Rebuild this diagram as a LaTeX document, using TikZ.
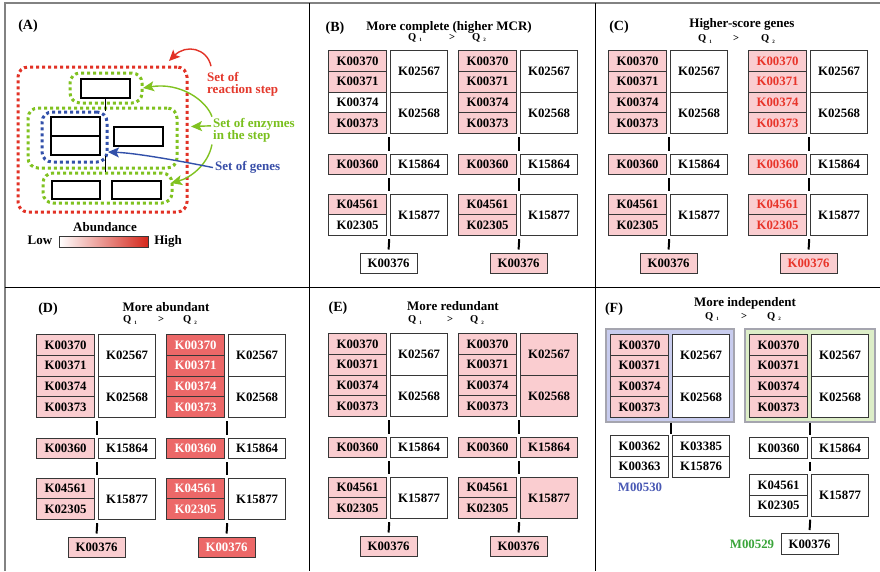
\documentclass[tikz,border=0pt]{standalone}
\usepackage{fontspec}
\setmainfont{Liberation Serif}
\usetikzlibrary{arrows.meta}
\definecolor{pinkc}{RGB}{250,205,208}
\definecolor{darkc}{RGB}{236,104,104}
\definecolor{redtxt}{RGB}{232,52,42}
\definecolor{boxline}{RGB}{55,55,55}
\definecolor{framegray}{RGB}{130,130,130}
\definecolor{dotred}{RGB}{226,50,38}
\definecolor{dotgreen}{RGB}{128,194,32}
\definecolor{dotblue}{RGB}{50,80,170}
\definecolor{txtred}{RGB}{228,56,44}
\definecolor{txtgreen}{RGB}{122,192,30}
\definecolor{txtblue}{RGB}{56,78,168}
\definecolor{lavender}{RGB}{200,204,238}
\definecolor{lightgreen}{RGB}{221,238,200}
\definecolor{rectgray}{RGB}{165,165,175}
\definecolor{mblue}{RGB}{72,88,180}
\definecolor{mgreen}{RGB}{58,165,58}
\definecolor{gradred}{RGB}{212,40,28}
\newcommand\genefont{\bfseries\fontsize{12.8}{13}\selectfont}
\newcommand\ttlfont{\bfseries\fontsize{13}{14}\selectfont}
\newcommand\labfont{\bfseries\fontsize{14}{15}\selectfont}
\newcommand\qfont{\bfseries\fontsize{10.5}{11}\selectfont}
\newcommand\atxtfont{\bfseries\fontsize{13}{14}\selectfont}
\newcommand\qsub[1]{\hspace{3pt}\raisebox{-1.5pt}{\fontsize{5}{5}\selectfont #1}}
\tikzset{
  gene/.style={draw=boxline, line width=1.2pt, fill=white, anchor=north west,
    inner sep=0pt, minimum width=58pt, minimum height=20.75pt, font=\genefont},
  rcol/.style={minimum width=57pt},
  big/.style={minimum height=41.5pt},
  pk/.style={fill=pinkc},
  dk/.style={fill=darkc, text=white},
  rt/.style={fill=pinkc, text=redtxt},
  conn/.style={line width=2pt, black},
  gA/.style={},gB/.style={},gC/.style={},gD/.style={},gE/.style={},gF/.style={},
  gG/.style={},gH/.style={},gI/.style={},gJ/.style={},gK/.style={},gL/.style={},
  std/.style={gA/.style={#1},gB/.style={#1},gC/.style={#1},gD/.style={#1},
    gG/.style={#1},gI/.style={#1},gJ/.style={#1},gL/.style={#1}},
  lab/.style={font=\labfont, anchor=base, inner sep=0pt},
  ttl/.style={font=\ttlfont, anchor=base, inner sep=0pt},
  ql/.style={font=\qfont, anchor=base west, inner sep=0pt},
  qg/.style={font=\qfont, anchor=base, inner sep=0pt},
  adot/.style={draw=#1, line width=3pt, dash pattern=on 3pt off 3pt,
    rounded corners=10pt, inner sep=0pt},
  abox/.style={draw=black, line width=1.5pt, fill=white, inner sep=0pt,
    minimum width=49pt, minimum height=19pt},
  atxt/.style={font=\atxtfont, anchor=base west, inner sep=0pt, text=#1},
  arr/.style={draw=#1, line width=1.4pt, -{Stealth[length=11pt,width=10pt,inset=2.5pt]}},
  mlab/.style={font=\genefont, inner sep=0pt, text=#1},
}
\newcommand\topstack[1]{%
  \node[gene,gA] (#1a) at (0,0) {K00370};
  \node[gene,gB] (#1b) at (0,20.75) {K00371};
  \node[gene,gC] (#1c) at (0,41.5) {K00374};
  \node[gene,gD] (#1d) at (0,62.25) {K00373};
  \node[gene,rcol,big,gE] (#1e) at (62,0) {K02567};
  \node[gene,rcol,big,gF] (#1f) at (62,41.5) {K02568};
}
\newcommand\lowerrows[4]{%
  \node[gene,gG] (#1g) at (0,#2) {K00360};
  \node[gene,rcol,gH] (#1h) at (62,#2) {K15864};
  \node[gene,gI] (#1i) at (0,#3) {K04561};
  \node[gene,gJ] (#1j) at (0,#3+20.75) {K02305};
  \node[gene,rcol,big,gK] (#1k) at (62,#3) {K15877};
  \node[gene,rcol,gL] (#1l) at (31.5,#4) {K00376};
  \draw[conn] ([xshift=2pt,yshift=-3pt]#1g.south east) -- ([xshift=2pt,yshift=3pt]#1i.north east);
  \draw[conn] ([xshift=2pt,yshift=-3pt]#1j.south east) -- ([yshift=3pt]#1l.north);
}
\newcommand\firstconn[1]{%
  \draw[conn] ([xshift=2pt,yshift=-3pt]#1d.south east) -- ([xshift=2pt,yshift=3pt]#1g.north east);
}
\newcommand\pathway[1]{\topstack{#1}\lowerrows{#1}{103.5}{143.5}{202.5}\firstconn{#1}}
\begin{document}
\begin{tikzpicture}[x=1pt,y=-1pt]
\useasboundingbox (0,0) rectangle (880,571);
\fill[white] (0,0) rectangle (880,571);
% frame
\draw[framegray, line width=1.2pt] (5,571) -- (5,3) -- (880,3);
\draw[black, line width=1pt] (309,3) -- (309,571);
\draw[black, line width=1pt] (595,3) -- (595,571);
\draw[black, line width=1pt] (5,287) -- (880,287);

% ---------- Panel A
\node[lab] (labA) at (28,29) {(A)};
\node[adot=dotred, minimum width=169pt, minimum height=145pt] (redset) at (102.5,139.5) {};
\node[adot=dotgreen, minimum width=72pt, minimum height=30pt] (gtop) at (106,88) {};
\node[adot=dotgreen, minimum width=149pt, minimum height=60pt] (gmid) at (102.5,138) {};
\node[adot=dotgreen, minimum width=129pt, minimum height=30pt] (gbot) at (107.5,188) {};
\node[adot=dotblue, minimum width=65pt, minimum height=50pt] (bset) at (74.5,137) {};
\node[abox] (atop) at (105.5,88.5) {};
\node[abox] (as1) at (75.5,126.5) {};
\node[abox] (as2) at (75.5,145.5) {};
\node[abox] (aright) at (138.5,136.5) {};
\node[abox, minimum width=48pt, minimum height=18pt] (ab1) at (76,190) {};
\node[abox, minimum width=49pt, minimum height=18pt] (ab2) at (136.5,190) {};
\draw[line width=1.6pt] (atop.south) -- (atop.south |- bset.north);
\draw[line width=1.6pt] (atop.south |- as2.south) -- (atop.south |- gbot.north);

\node[atxt=txtred] (treac1) at (207,81.5) {Set of};
\node[atxt=txtred] (treac2) at (207,93.5) {reaction step};
\node[atxt=txtgreen] (tenz1) at (213,127) {Set of enzymes};
\node[atxt=txtgreen] (tenz2) at (213,139.5) {in the step};
\node[atxt=txtblue] (tgen) at (215,170.7) {Set of genes};

\coordinate (redtip) at (169,61);
\coordinate (gtip1) at (143,88);
\coordinate (gtip2) at (191,126.5);
\coordinate (gtip3) at (171,183);
\coordinate (btip) at (108,152);
\draw[arr=dotred] ([xshift=4pt,yshift=6pt]treac1.north west) .. controls (207,48) and (186,44) .. (redtip);
\draw[arr=dotgreen] ([xshift=-1pt,yshift=1pt]tenz1.north west) .. controls (206,100) and (180,82) .. (gtip1);
\draw[arr=dotgreen] ([xshift=-2pt,yshift=-2pt]tenz1.west) -- (gtip2);
\draw[arr=dotgreen] ([xshift=-1pt,yshift=-2pt]tenz2.south west) .. controls (208,165) and (190,178) .. (gtip3);
\draw[arr=dotblue] ([xshift=-2pt]tgen.west) .. controls (175,160) and (135,153) .. (btip);

\node[font=\atxtfont, anchor=base, inner sep=0pt] (abund) at (105,231.5) {Abundance};
\node[draw=boxline, line width=1pt, minimum width=89pt, minimum height=11pt,
  left color=white, right color=gradred, inner sep=0pt] (grad) at (103.5,241.5) {};
\node[font=\atxtfont, anchor=base, inner sep=0pt] (low) at (40,244.5) {Low};
\node[font=\atxtfont, anchor=base, inner sep=0pt] (high) at (168,244.5) {High};

% ---------- Panel B
\node[lab] (labB) at (335,31) {(B)};
\node[ttl] (ttlB) at (449,30) {More complete (higher MCR)};
\node[ql] (bq1) at (408,40) {Q\qsub{1}};
\node[qg] (bgt) at (452,40) {>};
\node[ql] (bq2) at (472,40) {Q\qsub{2}};
\begin{scope}[shift={(328,50)}, gA/.style=pk, gB/.style=pk, gD/.style=pk, gG/.style=pk, gI/.style=pk]
  \pathway{bp}
\end{scope}
\begin{scope}[shift={(458,50)}, std=pk]
  \pathway{bq}
\end{scope}

% ---------- Panel C
\node[lab] (labC) at (619,30.5) {(C)};
\node[ttl] (ttlC) at (742,27) {Higher-score genes};
\node[ql] (cq1) at (698,41.5) {Q\qsub{1}};
\node[qg] (cgt) at (736,41.5) {>};
\node[ql] (cq2) at (761,41.5) {Q\qsub{2}};
\begin{scope}[shift={(608,50)}, std=pk]
  \pathway{cp}
\end{scope}
\begin{scope}[shift={(748,50)}, std=rt]
  \pathway{cq}
\end{scope}

% ---------- Panel D
\node[lab] (labD) at (48,312) {(D)};
\node[ttl] (ttlD) at (166,311) {More abundant};
\node[ql] (dq1) at (123,322.5) {Q\qsub{1}};
\node[qg] (dgt) at (161,322.5) {>};
\node[ql] (dq2) at (183,322.5) {Q\qsub{2}};
\begin{scope}[shift={(36,334)}, std=pk]
  \pathway{dp}
\end{scope}
\begin{scope}[shift={(166,334)}, std=dk]
  \pathway{dq}
\end{scope}

% ---------- Panel E
\node[lab] (labE) at (338,311) {(E)};
\node[ttl] (ttlE) at (453,310) {More redundant};
\node[ql] (eq1) at (408,322.5) {Q\qsub{1}};
\node[qg] (egt) at (450,322.5) {>};
\node[ql] (eq2) at (470,322.5) {Q\qsub{2}};
\begin{scope}[shift={(328,333)}, std=pk]
  \pathway{ep}
\end{scope}
\begin{scope}[shift={(458,333)}, std=pk, gE/.style=pk, gF/.style=pk, gH/.style=pk, gK/.style=pk]
  \pathway{eq}
\end{scope}

% ---------- Panel F
\node[lab] (labF) at (614,312) {(F)};
\node[ttl] (ttlF) at (745,306) {More independent};
\node[ql] (fq1) at (705,319) {Q\qsub{1}};
\node[qg] (fgt) at (744,319) {>};
\node[ql] (fq2) at (767,319) {Q\qsub{2}};
\node[draw=rectgray, line width=1.5pt, fill=lavender, anchor=north west, inner sep=0pt,
  minimum width=128pt, minimum height=93pt] (fblue) at (605,328) {};
\node[draw=rectgray, line width=1.5pt, fill=lightgreen, anchor=north west, inner sep=0pt,
  minimum width=130pt, minimum height=93pt] (fgreen) at (744,328) {};
\begin{scope}[shift={(610,334)}, gA/.style=pk, gB/.style=pk, gC/.style=pk, gD/.style=pk]
  \topstack{fp}
  \node[gene] (fpm) at (0,101) {K00362};
  \node[gene] (fpn) at (0,121.75) {K00363};
  \node[gene,rcol] (fpo) at (62,101) {K03385};
  \node[gene,rcol] (fpp) at (62,121.75) {K15876};
  \draw[conn] ([xshift=2pt]fpd.south east |- fblue.south) -- ([xshift=2pt,yshift=1pt]fpm.north east);
\end{scope}
\node[mlab=mblue] (m530) at (640,487) {M00530};
\begin{scope}[shift={(749,334)}, gA/.style=pk, gB/.style=pk, gC/.style=pk, gD/.style=pk]
  \topstack{fq}
  \lowerrows{fq}{103}{140}{199}
  \draw[conn] ([xshift=2pt]fqd.south east |- fgreen.south) -- ([xshift=2pt,yshift=2pt]fqg.north east);
\end{scope}
\node[mlab=mgreen] (m529) at (752,544) {M00529};
\end{tikzpicture}
\end{document}
